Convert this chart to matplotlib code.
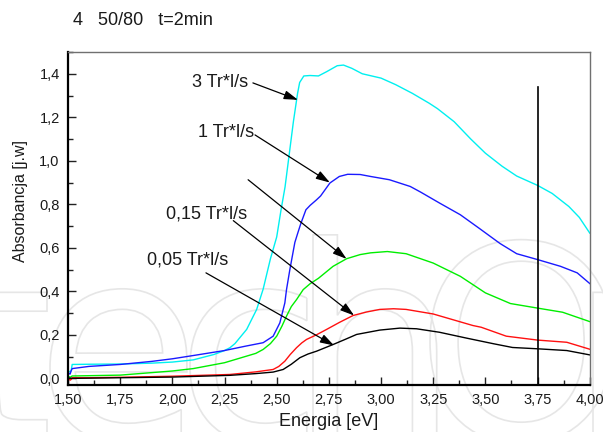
import matplotlib
matplotlib.use("Agg")
import matplotlib.pyplot as plt
from matplotlib.ticker import MultipleLocator, FuncFormatter
from matplotlib.textpath import TextPath
from matplotlib.patches import PathPatch
from matplotlib.font_manager import FontProperties
from matplotlib.transforms import Affine2D

plt.rcParams['font.family'] = ['Liberation Sans', 'DejaVu Sans']

# absorbance spectra, energy in eV
x_3 = [1.50, 1.51, 1.515, 1.52, 1.60, 1.75, 1.90, 2.00, 2.10, 2.20, 2.25, 2.276, 2.30, 2.356,
       2.404, 2.435, 2.45, 2.47, 2.50, 2.52, 2.54, 2.56, 2.58, 2.60, 2.61, 2.63, 2.66, 2.70,
       2.74, 2.79, 2.82, 2.86, 2.91, 3.00, 3.07, 3.15, 3.23, 3.27, 3.35, 3.43, 3.50, 3.58,
       3.65, 3.75, 3.82, 3.90, 3.95, 4.00]
y_3 = [0.035, 0.030, 0.035, 0.064, 0.065, 0.066, 0.070, 0.075, 0.085, 0.110, 0.128, 0.141,
       0.160, 0.225, 0.317, 0.410, 0.470, 0.550, 0.650, 0.770, 0.880, 1.030, 1.180, 1.310,
       1.360, 1.390, 1.392, 1.390, 1.410, 1.437, 1.440, 1.425, 1.400, 1.380, 1.350, 1.310,
       1.265, 1.240, 1.180, 1.100, 1.035, 0.975, 0.930, 0.887, 0.850, 0.790, 0.740, 0.668]

x_1 = [1.50, 1.505, 1.51, 1.515, 1.52, 1.60, 1.75, 1.90, 2.00, 2.10, 2.25, 2.35, 2.435, 2.483,
       2.515, 2.539, 2.547, 2.563, 2.587, 2.60, 2.615, 2.64, 2.66, 2.69, 2.71, 2.755, 2.80,
       2.84, 2.90, 2.95, 3.04, 3.14, 3.19, 3.28, 3.38, 3.47, 3.57, 3.65, 3.75, 3.86, 3.94, 4.00]
y_1 = [0.030, 0.022, 0.020, 0.035, 0.045, 0.055, 0.064, 0.078, 0.090, 0.105, 0.128, 0.148,
       0.164, 0.194, 0.255, 0.347, 0.408, 0.500, 0.625, 0.665, 0.710, 0.775, 0.795, 0.820,
       0.838, 0.898, 0.928, 0.938, 0.937, 0.928, 0.913, 0.882, 0.856, 0.806, 0.752, 0.690,
       0.620, 0.573, 0.546, 0.515, 0.485, 0.436]

x_05 = [1.50, 1.51, 1.52, 1.75, 2.00, 2.10, 2.25, 2.40, 2.435, 2.47, 2.50, 2.525, 2.547, 2.57,
        2.595, 2.627, 2.66, 2.70, 2.77, 2.835, 2.90, 2.95, 3.03, 3.12, 3.25, 3.38, 3.50, 3.62,
        3.75, 3.87, 4.00]
y_05 = [0.010, 0.005, 0.011, 0.015, 0.034, 0.045, 0.072, 0.115, 0.133, 0.160, 0.194, 0.240,
        0.286, 0.330, 0.362, 0.408, 0.435, 0.460, 0.515, 0.550, 0.569, 0.577, 0.583, 0.573,
        0.530, 0.469, 0.393, 0.344, 0.323, 0.304, 0.261]

x_015 = [1.50, 1.51, 1.515, 1.52, 1.60, 1.75, 2.00, 2.276, 2.40, 2.483, 2.51, 2.539, 2.565,
         2.595, 2.62, 2.643, 2.69, 2.739, 2.80, 2.866, 2.93, 2.994, 3.06, 3.12, 3.25, 3.44,
         3.48, 3.60, 3.75, 3.89, 4.00]
y_015 = [0.003, -0.008, -0.005, 0.003, 0.003, 0.005, 0.010, 0.018, 0.030, 0.041, 0.055, 0.079,
         0.110, 0.141, 0.163, 0.179, 0.200, 0.225, 0.257, 0.289, 0.305, 0.317, 0.320, 0.317,
         0.296, 0.243, 0.235, 0.194, 0.176, 0.166, 0.134]

x_005 = [1.50, 1.52, 1.75, 2.00, 2.276, 2.40, 2.483, 2.531, 2.57, 2.611, 2.65, 2.691, 2.771,
         2.83, 2.883, 2.994, 3.09, 3.17, 3.28, 3.41, 3.54, 3.63, 3.75, 3.89, 4.00]
y_005 = [0.002, 0.000, 0.003, 0.006, 0.014, 0.022, 0.029, 0.041, 0.065, 0.095, 0.112, 0.125,
         0.156, 0.180, 0.202, 0.222, 0.231, 0.228, 0.212, 0.185, 0.159, 0.142, 0.136, 0.128,
         0.108]

# labels: (text, text anchor, line start, arrow tip)
labels = ['3 Tr*l/s', '1 Tr*l/s', '', '0,15 Tr*l/s', '0,05 Tr*l/s']
label_xy = [(2.362, 1.358), (2.391, 1.130), None, (2.356, 0.757), (2.268, 0.543)]
arrow_from = [(2.386, 1.358), (2.396, 1.119), (2.363, 0.913), (2.292, 0.725), (2.161, 0.485)]
arrow_to = [(2.602, 1.280), (2.755, 0.900), (2.835, 0.549), (2.871, 0.289), (2.775, 0.151)]

marker_x = 3.75
marker_top = 1.34

fig = plt.figure(figsize=(6.03, 4.32), dpi=100, facecolor='white')
ax = fig.add_axes([0.1128, 0.109, 0.8652, 0.7706])
ax.set_facecolor('none')

# faint logo in the background
wm_font = FontProperties(family='DejaVu Sans')
wm_letters = ['t', 'e', 'c', 'h', 'O', 'p']
wm_left = [None, 50, 190, 313, 430, 593]
px_to_fig = Affine2D().scale(1 / 603, 1 / 432) + fig.transFigure
for ch, x0 in zip(wm_letters, wm_left):
    tp = TextPath((0, 0), ch, size=270, prop=wm_font)
    bb = tp.get_extents()
    dx = (47 - bb.x1) if x0 is None else (x0 - bb.x0)
    patch = PathPatch(tp, transform=Affine2D().translate(dx, -8) + px_to_fig,
                      fc='none', ec='#e6e6e6', lw=1.2, zorder=-5)
    fig.add_artist(patch)

ax.plot(x_3, y_3, color='#00f0f0', lw=1.0)
ax.plot(x_1, y_1, color='#1a1aff', lw=1.0)
ax.plot(x_05, y_05, color='#00ee00', lw=1.0)
ax.plot(x_015, y_015, color='#ff1010', lw=1.0)
ax.plot(x_005, y_005, color='black', lw=1.0)

ax.plot([marker_x, marker_x], [-0.03, marker_top], color='black', lw=1.2)

for txt, pos, p0, p1 in zip(labels, label_xy, arrow_from, arrow_to):
    ax.annotate('', xy=p1, xytext=p0,
                arrowprops=dict(arrowstyle='-|>,head_length=0.7,head_width=0.22',
                                color='black', lw=0.9, mutation_scale=12,
                                shrinkA=0, shrinkB=0))
    if txt:
        ax.text(pos[0], pos[1], txt, ha='right', va='center', fontsize=13,
                color='#1a1a1a')

ax.set_xlim(1.5, 4.0)
ax.set_ylim(-0.03, 1.5)

ax.xaxis.set_major_locator(MultipleLocator(0.25))
ax.xaxis.set_minor_locator(MultipleLocator(0.125))
ax.yaxis.set_major_locator(MultipleLocator(0.2))
ax.yaxis.set_minor_locator(MultipleLocator(0.1))
ax.xaxis.set_major_formatter(FuncFormatter(lambda v, p: f"{v:.2f}".replace('.', ',')))
ax.yaxis.set_major_formatter(FuncFormatter(lambda v, p: f"{v:.1f}".replace('.', ',')))

ax.tick_params(which='both', direction='in', top=False, right=False, width=1.0,
               color='#222222')
ax.tick_params(which='major', length=6, labelsize=10.5, labelcolor='#1a1a1a', pad=6)
ax.tick_params(which='minor', length=3.5)

for side in ['left', 'bottom']:
    ax.spines[side].set_linewidth(1.6)
    ax.spines[side].set_color('black')
for side in ['top', 'right']:
    ax.spines[side].set_linewidth(1.0)
    ax.spines[side].set_color('#707070')

ax.set_xlabel('Energia [eV]', fontsize=13, color='#1a1a1a', va='center')
ax.xaxis.set_label_coords(0.5, -0.111)
ax.set_ylabel('Absorbancja [j.w]', fontsize=11.5, color='#1a1a1a', va='center')
ax.yaxis.set_label_coords(-0.092, 0.551)

fig.text(72.7 / 603, 1 - 20.7 / 432, '4   50/80   t=2min', fontsize=13,
         ha='left', va='center', color='#1a1a1a')

fig.savefig('out.png', dpi=100, facecolor='white')
